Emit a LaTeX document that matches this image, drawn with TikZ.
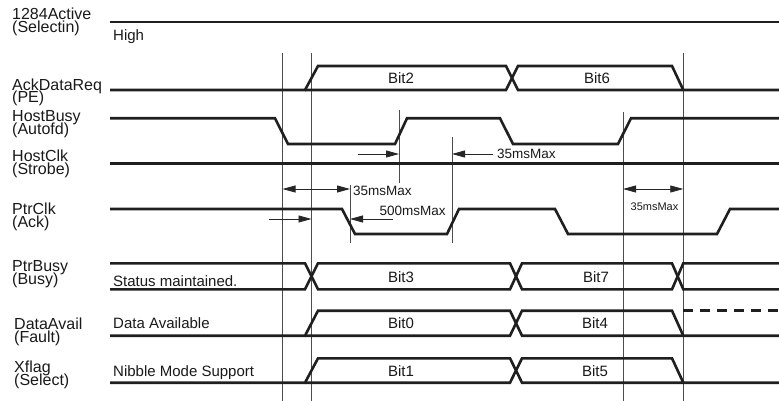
\documentclass[tikz,border=0pt]{standalone}
\usepackage{fontspec}
\setmainfont{Liberation Sans}
\usetikzlibrary{arrows.meta}
\begin{document}
\setlength{\lineskiplimit}{-20pt}%
\begin{tikzpicture}[x=1pt,y=-1pt,
  sig/.style={line width=2.6pt, line join=miter, draw=black!88},
  guide/.style={line width=0.8pt, draw=black!70},
  dim/.style={line width=0.8pt, draw=black!85},
  onetip/.style={dim,-{Triangle[length=13pt,width=7pt]}},
  twotip/.style={dim,{Triangle[length=13pt,width=7pt]}-{Triangle[length=13pt,width=7pt]}},
  lab/.style={anchor=base west, inner sep=0pt, align=left, text=black!90,
    font=\fontsize{16}{13}\selectfont},
  txt/.style={anchor=base west, inner sep=0pt, text=black!90, font=\fontsize{15}{15}\selectfont},
  bit/.style={anchor=center, inner sep=0pt, text=black!90, font=\fontsize{15}{15}\selectfont},
  ann/.style={anchor=base west, inner sep=0pt, text=black!90, font=\fontsize{13.5}{13.5}\selectfont},
  annsmall/.style={anchor=base, inner sep=0pt, text=black!90, font=\fontsize{11}{11}\selectfont}
]
\useasboundingbox (0,0) rectangle (779,401);

% ---------- left labels (two lines each; anchored at the second line) ----------
\node[lab] (n1) at (12,33) {1284Active\\(Selectin)};
\node[lab] (n2) at (12,103) {AckDataReq\\(PE)};
\node[lab] (n3) at (12,134.7) {HostBusy\\(Autofd)};
\node[lab] (n4) at (12,174.7) {HostClk\\(Strobe)};
\node[lab] (n5) at (12,227.3) {PtrClk\\(Ack)};
\node[lab] (n6) at (12,284.5) {PtrBusy\\(Busy)};
\node[lab] (n7) at (14,342) {DataAvail\\(Fault)};
\node[lab] (n8) at (14,385.5) {Xflag\\(Select)};

% ---------- guide lines ----------
\coordinate (v1t) at (282.5,53);  \coordinate (v1b) at (282.5,401);
\coordinate (v2t) at (311.5,53);  \coordinate (v2b) at (311.5,401);
\coordinate (v3t) at (399,110);   \coordinate (v3b) at (399,183);
\coordinate (v4t) at (452,137);   \coordinate (v4b) at (452,243);
\coordinate (v5t) at (350,185);   \coordinate (v5b) at (350,243);
\coordinate (v6t) at (623,112);   \coordinate (v6b) at (623,401);
\coordinate (v7t) at (683.3,53);  \coordinate (v7b) at (683.3,401);
\foreach \v in {v1,v2,v3,v4,v5,v6,v7} \draw[guide] (\v t) -- (\v b);

% ---------- signals ----------
% 1284Active
\draw[sig] (110,22) -- (779,22);
\node[txt] (high) at (113,40.5) {High};
% AckDataReq
\draw[sig] (110,90) -- (305,90) -- (318,66) -- (506,66) -- (518,90) -- (779,90);
\draw[sig] (305,90) -- (506,90) -- (518,66) -- (672,66) -- (683.3,90);
\node[bit] (b2) at (401,78) {Bit2};
\node[bit] (b6) at (597,78) {Bit6};
% HostBusy
\draw[sig] (110,118.3) -- (275,118.3) -- (288,144) -- (395,144) -- (407,118.3) -- (500,118.3) -- (513,144) -- (618,144) -- (631,118.3) -- (779,118.3);
% HostClk
\draw[sig] (110,163.3) -- (779,163.3);
% PtrClk
\draw[sig] (110,209) -- (342,209) -- (355,234) -- (447,234) -- (459,209) -- (555,209) -- (568,234) -- (717,234) -- (730,209) -- (779,209);
% PtrBusy
\draw[sig] (110,263.3) -- (305,263.3) -- (318,289.3) -- (510,289.3) -- (522,263.3) -- (672,263.3) -- (683.3,289.3) -- (779,289.3);
\draw[sig] (110,289.3) -- (305,289.3) -- (318,263.3) -- (510,263.3) -- (522,289.3) -- (672,289.3) -- (683.3,263.3) -- (779,263.3);
\node[txt] (st) at (113,286.5) {Status maintained.};
\node[bit] (b3) at (401,277) {Bit3};
\node[bit] (b7) at (596,277) {Bit7};
% DataAvail
\draw[sig] (110,335.7) -- (305,335.7) -- (318,310.7) -- (510,310.7) -- (522,335.7) -- (779,335.7);
\draw[sig] (305,335.7) -- (510,335.7) -- (522,310.7) -- (672,310.7) -- (683.3,335.7);
\draw[sig, dash pattern=on 10pt off 7pt] (683.3,310.7) -- (779,310.7);
\node[txt] (da) at (113,328.3) {Data Available};
\node[bit] (b0) at (401,323.3) {Bit0};
\node[bit] (b4) at (595,323.3) {Bit4};
% Xflag
\draw[sig] (110,382.7) -- (305,382.7) -- (318,358.3) -- (510,358.3) -- (522,382.7) -- (779,382.7);
\draw[sig] (305,382.7) -- (510,382.7) -- (522,358.3) -- (672,358.3) -- (683.3,382.7);
\node[txt] (nm) at (113,376) {Nibble Mode Support};
\node[bit] (b1) at (401,371) {Bit1};
\node[bit] (b5) at (595,371) {Bit5};

% ---------- timing annotations ----------
\coordinate (a1s) at (358,154);  \coordinate (a1e) at (399,154);
\draw[onetip] (a1s) -- (a1e);
\coordinate (a2s) at (493,154);  \coordinate (a2e) at (452,154);
\draw[onetip] (a2s) -- (a2e);
\node[ann] (t1) at (497,158.7) {35msMax};

\coordinate (a3s) at (282.5,189); \coordinate (a3e) at (350,189);
\draw[twotip] (a3s) -- (a3e);
\node[ann] (t2) at (353,195) {35msMax};

\coordinate (a4s) at (269,219);  \coordinate (a4e) at (311.5,219);
\draw[onetip] (a4s) -- (a4e);
\coordinate (a5s) at (393,219);  \coordinate (a5e) at (350,219);
\draw[onetip] (a5s) -- (a5e);
\node[ann] (t3) at (379.5,215) {500msMax};

\coordinate (a6s) at (623,189);  \coordinate (a6e) at (683.3,189);
\draw[twotip] (a6s) -- (a6e);
\node[annsmall] (t4) at (654.5,210.5) {35msMax};
\end{tikzpicture}
\end{document}
